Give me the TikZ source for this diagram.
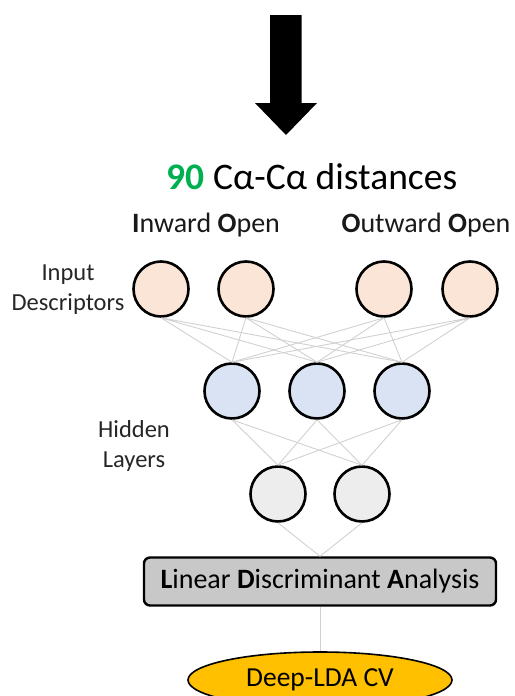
\documentclass[tikz,border=0pt]{standalone}
\usepackage{fontspec}
\setmainfont{Carlito}
\usepackage{xcolor}
\usetikzlibrary{positioning, shapes.geometric}

\definecolor{inpeach}{HTML}{FBE5D6}
\definecolor{hidblue}{HTML}{DAE3F3}
\definecolor{hidgray}{HTML}{EDEDED}
\definecolor{ldagray}{HTML}{C8C8C8}
\definecolor{cvgold}{HTML}{FFC000}
\definecolor{numgreen}{HTML}{00B050}

\begin{document}
\begin{tikzpicture}[x=1pt, y=-1pt,
    neuron/.style={circle, draw=black, line width=2.6pt, minimum size=55pt, inner sep=0pt},
    link/.style={draw=black!18, line width=0.9pt},
    sidelbl/.style={font=\fontsize{24.5}{30}\selectfont, align=center, text=black!85},
    grplbl/.style={font=\fontsize{28}{32}\selectfont, text=black!90}]

    \useasboundingbox (0,0) rectangle (514,696);

    % Big input arrow
    \fill[black] (270,15) -- (301.5,15) -- (301.5,103) -- (317,103) -- (286,135)
                 -- (255,103) -- (270,103) -- cycle;

    % === Descriptor header ===
    \node[font=\fontsize{37.5}{42}\selectfont] (title) at (312,177)
      {\textcolor{numgreen}{\textbf{90}} Cα-Cα distances};

    \node[grplbl] (IO) at (206,225) {\textbf{I}nward \textbf{O}pen};
    \node[grplbl] (OO) at (426,225) {\textbf{O}utward \textbf{O}pen};

    % === Input layer ===
    \node[sidelbl] (inlbl) at (68,290) {Input\\Descriptors};
    \node[neuron, fill=inpeach] (in1) at (161,289) {};
    \node[neuron, fill=inpeach] (in2) at (246,289) {};
    \node[neuron, fill=inpeach] (in3) at (384,289) {};
    \node[neuron, fill=inpeach] (in4) at (470,289) {};

    % === Hidden layers ===
    \node[sidelbl] (hidlbl) at (134,446) {Hidden\\Layers};
    \node[neuron, fill=hidblue] (h1) at (232,391) {};
    \node[neuron, fill=hidblue] (h2) at (317,391) {};
    \node[neuron, fill=hidblue] (h3) at (402,391) {};

    \node[neuron, fill=hidgray] (g1) at (278,494) {};
    \node[neuron, fill=hidgray] (g2) at (362,494) {};

    % === Output ===
    \node[draw=black, line width=2.4pt, rounded corners=6pt, fill=ldagray,
          minimum width=352pt, minimum height=48pt,
          font=\fontsize{28}{32}\selectfont] (lda) at (320,581.5)
      {\textbf{L}inear \textbf{D}iscriminant \textbf{A}nalysis};

    \node[ellipse, draw=black, line width=1.6pt, fill=cvgold,
          minimum width=264pt, minimum height=56pt,
          font=\fontsize{27.5}{32}\selectfont] (cv) at (320,680)
      {Deep-LDA CV};

    % connections
    \draw[link] (in1.south) -- (h1.north) (in1.south) -- (h2.north) (in1.south) -- (h3.north);
    \draw[link] (in2.south) -- (h1.north) (in2.south) -- (h2.north) (in2.south) -- (h3.north);
    \draw[link] (in3.south) -- (h1.north) (in3.south) -- (h2.north) (in3.south) -- (h3.north);
    \draw[link] (in4.south) -- (h1.north) (in4.south) -- (h2.north) (in4.south) -- (h3.north);

    \draw[link] (h1.south) -- (g1.north) (h1.south) -- (g2.north);
    \draw[link] (h2.south) -- (g1.north) (h2.south) -- (g2.north);
    \draw[link] (h3.south) -- (g1.north) (h3.south) -- (g2.north);

    \draw[link] (g1.south) -- (lda.north) (g2.south) -- (lda.north);
    \draw[link] (lda.south) -- (cv.north);

\end{tikzpicture}
\end{document}
